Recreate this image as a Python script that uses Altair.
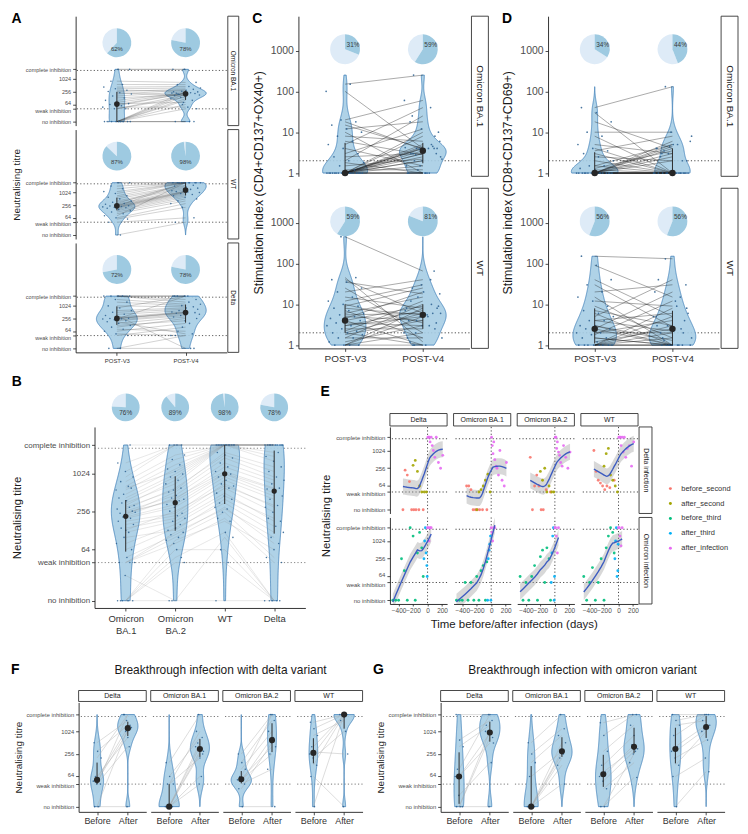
import json
import math
import altair as alt
import pandas as pd

FONT = "Liberation Sans"
VFILL = "#a6cde4"
VSTROKE = "#3f7fb8"
PTCOL = "#2a5f8f"
PIE_DARK = "#9ecae1"
PIE_LIGHT = "#deebf7"
STRIP_STROKE = "#333333"

# ---------------- values ----------------
NO_INH, WEAK, COMPLETE, COMPLETE_LINE = 10, 40, 2880, 2560
SI_THRESHOLD = 2

PERIODS = ["POST-V3", "POST-V4"]
A_VARIANTS = ["Omicron BA.1", "WT", "Delta"]
A_PIE = {"Omicron BA.1": [62, 78], "WT": [87, 98], "Delta": [72, 78]}
A_V3 = {
    "Omicron BA.1": [10, 10, 10, 10, 10, 10, 10, 10, 10, 10, 40, 40, 48, 56, 64, 70, 80, 100, 130, 160,
                     200, 230, 260, 300, 350, 420, 560, 800, 2880, 2880],
    "WT": [10, 40, 56, 64, 80, 100, 120, 140, 160, 180, 190, 200, 210, 220, 230, 240, 260, 280, 300, 350,
           400, 500, 600, 700, 900, 1100, 1500, 2000, 2880, 2880],
    "Delta": [10, 10, 40, 48, 64, 80, 100, 120, 150, 180, 200, 220, 240, 250, 256, 260, 300, 350, 400, 500,
              600, 800, 1000, 1500, 2000, 2880, 2880, 2880, 2880, 2880],
}
A_V4 = {
    "Omicron BA.1": [10, 10, 64, 120, 10, 200, 40, 160, 256, 100, 140, 180, 48, 215, 210, 80, 220, 230, 190, 250,
                     300, 170, 330, 270, 380, 450, 550, 700, 2880, 2880],
    "WT": [40, 64, 200, 300, 2880, 400, 500, 600, 700, 800, 900, 1000, 1050, 1100, 2880, 1150, 1200, 1400, 2880,
           1600, 1800, 2000, 2200, 2880, 2880, 2880, 2880, 2880, 2880, 2880],
    "Delta": [40, 10, 100, 40, 150, 64, 256, 200, 300, 48, 350, 400, 2880, 450, 480, 500, 520, 10, 600, 700,
              800, 2880, 900, 1024, 1200, 1500, 2880, 2000, 2880, 2880],
}

B_VARIANTS = ["Omicron BA.1", "Omicron BA.2", "WT", "Delta"]
B_PIE = [76, 89, 98, 78]
B_TITRES = {
    "Omicron BA.1": [10, 10, 10, 25, 10, 40, 10, 40, 48, 40, 64, 100, 80, 120, 140, 160, 130, 180, 200, 210,
                     250, 220, 240, 260, 230, 280, 300, 350, 320, 380, 420, 600, 480, 560, 640, 760, 900, 1100,
                     1500, 2880],
    "Omicron BA.2": [10, 40, 64, 10, 48, 80, 90, 100, 110, 120, 140, 130, 160, 180, 200, 220, 260, 240, 300, 330,
                     380, 420, 400, 460, 520, 600, 560, 700, 800, 900, 1000, 1100, 1200, 1400, 1700, 2000,
                     2880, 2880, 2880, 2880],
    "WT": [10, 40, 64, 100, 120, 200, 180, 250, 300, 280, 350, 400, 450, 500, 600, 700, 650, 800, 900, 1000,
           1024, 1100, 1300, 1500, 1800, 2000, 2200, 2880, 2880, 2880, 2880, 2880, 2880, 2880, 2880, 2880,
           2880, 2880, 2880, 2880],
    "Delta": [10, 10, 10, 10, 10, 40, 64, 48, 80, 100, 120, 150, 200, 180, 250, 300, 320, 400, 450, 500,
              580, 600, 700, 800, 900, 1100, 1300, 1600, 1900, 2200, 2880, 2880, 2880, 2880, 2880, 2880,
              2880, 2880, 2880, 2880],
}

C_VARIANTS = ["Omicron BA.1", "WT"]
C_PIE = {"Omicron BA.1": [31, 59], "WT": [59, 81]}
C_V3 = {
    "Omicron BA.1": [1, 1, 1, 1, 1, 1, 1, 1, 1, 1, 1, 1, 1, 1, 1, 1, 1, 1, 1.2, 1.5, 1.8, 2, 2.5, 3, 4, 5, 6,
                     8, 10, 12, 15, 18, 20, 100, 150],
    "WT": [1, 1, 1, 1, 1.2, 1.5, 1.5, 1.8, 2, 2, 2.2, 2.5, 3, 3, 3.5, 4, 4, 4.5, 5, 5.5, 6, 7, 8, 9, 10, 12,
           15, 20, 25, 35, 40, 45, 450],
}
C_V4 = {
    "Omicron BA.1": [3, 4, 2, 1, 5, 4, 2.5, 1, 3, 8, 1.5, 4.2, 1, 2, 10, 3.5, 1, 4.5, 1.2, 2.2, 1, 25, 3, 12,
                     1.5, 40, 2.8, 6, 1, 18, 4, 3.8, 60, 4, 250],
    "WT": [2, 5, 1, 8, 3, 1.5, 10, 4, 6, 1, 12, 2.5, 5, 7, 3, 1, 9, 20, 4, 6, 15, 1.5, 5.5, 25, 3.5, 30, 8,
           40, 2, 18, 6, 1.2, 65],
}
D_PIE = {"Omicron BA.1": [34, 44], "WT": [56, 56]}
D_V3 = {
    "Omicron BA.1": [1, 1, 1, 1, 1, 1, 1, 1, 1, 1, 1, 1, 1, 1, 1, 1, 1.2, 1.3, 1.5, 1.5, 2, 2.5, 3, 3.5, 4, 5,
                     8, 10, 18, 30, 40],
    "WT": [1, 1, 1, 1, 1, 1, 1, 1, 1.2, 1.5, 1.5, 1.8, 2, 2, 2.5, 2.5, 3, 3, 4, 4, 5, 6, 7, 9, 12, 15, 20, 30,
           40, 90, 150],
}
D_V4 = {
    "Omicron BA.1": [1, 3, 1, 5, 1, 2, 1, 4, 1, 1, 6, 1, 2.5, 1, 4.5, 1, 1, 3.5, 1, 5, 1, 2, 1, 8, 1, 3, 1, 10,
                     4, 1, 130],
    "WT": [2, 1, 5, 1, 1.5, 8, 1, 3, 2.5, 1, 1, 12, 2, 4, 1, 20, 1, 1.3, 6, 2.2, 40, 1, 3, 1.5, 9, 1, 30, 2.8,
           5, 15, 130],
}

E_COLS = ["Delta", "Omicron BA.1", "Omicron BA.2", "WT"]
E_ROWS = ["Delta infection", "Omicron infection"]
E_CATS = ["before_second", "after_second", "before_third", "after_third", "after_infection"]
E_COLORS = ["#F8766D", "#A3A500", "#00BF7D", "#00B0F6", "#E76BF3"]
E_R1_DAYS = [-340, -310, -280, -250, -220, -190, -160, -120, -60,
             -200, -170, -140, -110, -80, -45, -15,
             5, 15, 25, 35, 50, 65, 80, 100, 120, 150, 180, 210]
E_R1_CATS = ["before_second"] * 9 + ["after_second"] * 7 + ["after_infection"] * 12
E_R1_T = {
    "Delta": [10, 220, 150, 90, 10, 10, 10, 10, 10, 320, 470, 200, 64, 40, 40, 40,
              2880, 2880, 2880, 2000, 2880, 1500, 1024, 600, 2880, 400, 256, 700],
    "Omicron BA.1": [64, 64, 48, 10, 10, 10, 10, 10, 10, 10, 40, 48, 64, 100, 160, 40,
                     2880, 1500, 800, 2000, 500, 300, 256, 150, 1024, 100, 64, 400],
    "Omicron BA.2": [600, 10, 64, 150, 64, 10, 10, 48, 40, 200, 100, 256, 40, 64, 40, 40,
                     2880, 2880, 1200, 2000, 900, 700, 400, 300, 1500, 600, 256, 900],
    "WT": [1024, 200, 100, 80, 64, 48, 64, 56, 100, 300, 800, 1200, 150, 100, 64, 40,
           2880, 2880, 2880, 1500, 2880, 900, 2880, 600, 1200, 1500, 300, 2000],
}
E_R2_DAYS = [-480, -440, -400, -360, -320, -280, -240, -200, -170, -140, -110, -80, -60,
             -50, -40, -30, -20, -10, -5,
             0, 10, 20, 35, 50]
E_R2_CATS = ["before_third"] * 13 + ["after_third"] * 6 + ["after_infection"] * 5
E_R2_T = {
    "Delta": [10, 10, 10, 256, 100, 10, 2880, 1500, 10, 400, 2000, 600, 64,
              256, 1024, 2880, 400, 150, 64, 2880, 2880, 1024, 2880, 2880],
    "Omicron BA.1": [10, 10, 10, 40, 10, 40, 10, 64, 10, 100, 150, 10, 200,
                     10, 256, 500, 800, 1500, 10, 2880, 2000, 1024, 2880, 2880],
    "Omicron BA.2": [64, 10, 40, 10, 64, 150, 10, 300, 500, 40, 600, 256, 10,
                     40, 400, 1500, 2880, 10, 64, 2880, 2880, 1500, 400, 2880],
    "WT": [64, 10, 40, 128, 10, 40, 256, 10, 600, 1500, 2880, 2000, 400,
           256, 1024, 2880, 64, 100, 800, 2880, 2880, 1500, 700, 2880],
}

FG_COLS = ["Delta", "Omicron BA.1", "Omicron BA.2", "WT"]
STAGES = ["Before", "After"]
F_TITLE = "Breakthrough infection with delta variant"
G_TITLE = "Breakthrough infection with omicron variant"
F_BEFORE = {"Delta": [10, 10, 40, 40, 48, 56, 64, 200, 300, 512],
            "Omicron BA.1": [10, 10, 10, 10, 10, 10, 40, 40, 64, 150],
            "Omicron BA.2": [10, 30, 40, 48, 52, 56, 64, 100, 150, 256],
            "WT": [10, 64, 128, 200, 256, 290, 400, 800, 1200, 1800]}
F_AFTER = {"Delta": [1200, 10, 2880, 400, 1024, 1300, 700, 2880, 1500, 2000],
           "Omicron BA.1": [256, 40, 400, 64, 500, 300, 200, 1024, 700, 2880],
           "Omicron BA.2": [10, 512, 100, 700, 256, 400, 2880, 1024, 2000, 2880],
           "WT": [2880, 10, 2880, 1024, 2880, 256, 2880, 2000, 2880, 2880]}
G_BEFORE = {"Delta": [10, 10, 10, 20, 64, 64, 100, 400, 600, 2880],
            "Omicron BA.1": [10, 10, 10, 10, 10, 10, 64, 150, 256, 512],
            "Omicron BA.2": [10, 10, 30, 48, 64, 84, 128, 300, 800, 1750],
            "WT": [10, 64, 128, 200, 300, 400, 800, 1500, 2000, 2880]}
G_AFTER = {"Delta": [700, 10, 1024, 150, 900, 500, 2880, 1500, 2000, 2880],
           "Omicron BA.1": [40, 300, 128, 256, 200, 512, 300, 800, 1200, 2880],
           "Omicron BA.2": [60, 256, 150, 300, 450, 350, 800, 1500, 2880, 2880],
           "WT": [86, 200, 1024, 600, 1200, 1500, 2880, 2000, 2880, 2880]}

# ---------------- helpers ----------------
L2 = "log(datum.t) / LN2"
L10 = "log(datum.t) / LN10"
TITRE_TICKS = [math.log2(v) for v in [NO_INH, WEAK, 64, 256, 1024, COMPLETE]]
TITRE_LABELS = ("datum.value < 4 ? 'no inhibition' : datum.value < 5.5 ? 'weak inhibition' : "
                "datum.value > 11 ? 'complete inhibition' : format(pow(2, datum.value), 'd')")
SI_TICKS = [0, 1, 2, 3]
SI_LABELS = "format(pow(10, datum.value), 'd')"
DUMMY = pd.DataFrame({"d": [0]})
ECOL = alt.Scale(domain=E_CATS, range=E_COLORS)


def paired(*series):
    rows = []
    for p, vals in enumerate(series, start=1):
        for i, v in enumerate(vals):
            rows.append({"subj": i, "pos": p, "t": v})
    return pd.DataFrame(rows)


def pie_df(pcts):
    return pd.DataFrame({"pos": list(range(1, len(pcts) + 1)), "pct": pcts})


def cat_axis(labels, fs, split=False, pad=2):
    expr = f"{json.dumps(labels)}[datum.value - 1]"
    if split:
        expr = f"split({expr}, ' ')"
    return alt.Axis(values=list(range(1, len(labels) + 1)), labelExpr=expr, labelFontSize=fs,
                    title=None, labelPadding=pad, labelColor="#333333")


def titre_axis(fs, title=None, title_fs=10, title_y=None, nudge=1.6, title_pad=4):
    kw = dict(values=TITRE_TICKS, labelExpr=TITRE_LABELS, labelFontSize=fs, title=title,
              titleFontSize=title_fs, titlePadding=title_pad,
              labelOffset={"condition": [{"test": "datum.value > 5.9 && datum.value < 6.1", "value": -nudge},
                                         {"test": "datum.value > 5.2 && datum.value < 5.5", "value": nudge}],
                           "value": 0})
    if title_y is not None:
        kw["titleY"] = title_y
    return alt.Axis(**kw)


def si_axis(title=None, title_y=None):
    kw = dict(values=SI_TICKS, labelExpr=SI_LABELS, labelFontSize=10.5, title=title,
              titleFontSize=12.5, titlePadding=5)
    if title_y is not None:
        kw["titleY"] = title_y
    return alt.Axis(**kw)


def top_strip(w, label, h=12, gap=1, fs=7):
    r = alt.Chart(DUMMY).mark_rect(fill="white", stroke=STRIP_STROKE, strokeWidth=0.9).encode(
        x=alt.value(0), x2=alt.value(w), y=alt.value(-gap - h), y2=alt.value(-gap))
    t = alt.Chart(DUMMY).mark_text(fontSize=fs, color="#1a1a1a").encode(
        x=alt.value(w / 2), y=alt.value(-gap - h / 2), text=alt.value(label))
    return [r, t]


def right_strip(w, h, label, sw=12, gap=1, fs=7):
    r = alt.Chart(DUMMY).mark_rect(fill="white", stroke=STRIP_STROKE, strokeWidth=0.9).encode(
        x=alt.value(w + gap), x2=alt.value(w + gap + sw), y=alt.value(0), y2=alt.value(h))
    t = alt.Chart(DUMMY).mark_text(fontSize=fs, color="#1a1a1a", angle=90).encode(
        x=alt.value(w + gap + sw / 2), y=alt.value(h / 2), text=alt.value(label))
    return [r, t]


def spacer():
    return alt.Chart(DUMMY).mark_point(opacity=0, size=1).encode(
        x=alt.value(0), y=alt.value(0)).properties(width=1, height=1)


def violin_unit(df, *, w, h, xdom, ydom, lexpr, thresholds, xaxis, yaxis,
                pies=None, pie_l=0.0, pie_r=14, pie_dx=0, pie_dy=6, pie_fs=6,
                hw=0.3, jit=0.2, line_color="#333333", line_op=0.5, line_w=0.4,
                dot=30, pt=3, rule_color="#333333", extra=()):
    xs = alt.Scale(domain=xdom, nice=False, zero=False)
    ys = alt.Scale(domain=ydom, nice=False, zero=False)

    def X(f, **kw):
        return alt.X(f + ":Q", scale=xs, axis=xaxis, **kw)

    def Y(f):
        return alt.Y(f + ":Q", scale=ys, axis=yaxis)

    base = alt.Chart(df).transform_calculate(l=lexpr)
    layers = [
        alt.Chart(pd.DataFrame({"t": thresholds})).transform_calculate(l=lexpr)
        .mark_rule(color=rule_color, strokeDash=[1.2, 2.2], strokeWidth=0.8).encode(y=Y("l")),
        base.transform_density("l", as_=["l", "dens"], groupby=["pos"])
        .transform_joinaggregate(dmax="max(dens)")
        .transform_calculate(x1=f"datum.pos - {hw} * datum.dens / datum.dmax",
                             x2=f"datum.pos + {hw} * datum.dens / datum.dmax")
        .mark_area(orient="horizontal", fill=VFILL, fillOpacity=0.9, stroke=VSTROKE, strokeWidth=0.8)
        .encode(y=Y("l"), x=X("x1"), x2=alt.X2("x2"), detail="pos:N"),
        base.mark_line(color=line_color, opacity=line_op, strokeWidth=line_w)
        .encode(x=X("pos"), y=Y("l"), detail="subj:N"),
        base.transform_window(rn="row_number()")
        .transform_calculate(jx=f"datum.pos + ((datum.rn * 0.618034) % 1 - 0.5) * {2 * jit}")
        .mark_circle(size=pt, color=PTCOL, opacity=0.85).encode(x=X("jx"), y=Y("l")),
    ]
    summ = base.transform_aggregate(q1="q1(l)", q3="q3(l)", med="median(l)", groupby=["pos"])
    layers.append(summ.mark_rule(color="#2b2b2b", strokeWidth=1).encode(x=X("pos"), y=Y("q1"), y2=alt.Y2("q3")))
    layers.append(summ.mark_circle(size=dot, color="#262626", opacity=1).encode(x=X("pos"), y=Y("med")))
    if pies is not None:
        pb = alt.Chart(pies).transform_calculate(a0="0", a1="datum.pct * 2 * PI / 100", a2="2 * PI",
                                                 lbl="datum.pct + '%'")
        py = alt.YDatum(pie_l, type="quantitative", scale=ys, axis=yaxis)
        layers.append(pb.mark_arc(radius=pie_r, color=PIE_LIGHT).encode(
            x=X("pos", stack=False), y=py,
            theta=alt.Theta("a1:Q", scale=None, stack=False), theta2=alt.Theta2("a2")))
        layers.append(pb.mark_arc(radius=pie_r, color=PIE_DARK).encode(
            x=X("pos", stack=False), y=py,
            theta=alt.Theta("a0:Q", scale=None, stack=False), theta2=alt.Theta2("a1")))
        layers.append(pb.mark_text(fontSize=pie_fs, dx=pie_dx, dy=pie_dy, color="#3a3a3a").encode(
            x=X("pos"), y=py, text="lbl:N"))
    layers.extend(extra)
    return alt.layer(*layers).properties(width=w, height=h)


def letter(s, offset=4):
    return alt.TitleParams(s, anchor="start", fontSize=14, fontWeight="bold", offset=offset)


# ---------------- panel A ----------------
AW, AH = 152, 110
a_units = []
for i, v in enumerate(A_VARIANTS):
    last = i == len(A_VARIANTS) - 1
    a_units.append(violin_unit(
        paired(A_V3[v], A_V4[v]), w=AW, h=AH, xdom=[0.4, 2.6], ydom=[2.7, 19.8], lexpr=L2,
        thresholds=[WEAK, COMPLETE_LINE], xaxis=cat_axis(PERIODS, 6) if last else None,
        yaxis=titre_axis(5.5, title="Neutralising titre" if i == 1 else None, title_fs=10),
        pies=pie_df(A_PIE[v]), pie_l=15.65, pie_r=14.5, pie_dy=6, pie_fs=6,
        hw=0.3, jit=0.22, line_color="#333333", line_op=0.55, line_w=0.4, dot=32, pt=2.5,
        extra=right_strip(AW, AH, v, sw=11, gap=1, fs=6.5)))
panel_a = alt.vconcat(*a_units, spacing=4, bounds="flush").properties(title=letter("A", offset=-10))


# ---------------- panels C and D ----------------
CW, CH = 172, 161


def si_panel(name, label, v3, v4, pies):
    units = []
    for i, v in enumerate(C_VARIANTS):
        last = i == len(C_VARIANTS) - 1
        units.append(violin_unit(
            paired(v3[v], v4[v]), w=CW, h=CH, xdom=[0.4, 2.6], ydom=[-0.08, 3.84], lexpr=L10,
            thresholds=[SI_THRESHOLD], xaxis=cat_axis(PERIODS, 10) if last else None,
            yaxis=si_axis(title=label if i == 0 else None, title_y=CH + 6),
            pies=pie_df(pies[v]), pie_l=3.03, pie_r=15, pie_dx=8, pie_dy=-4, pie_fs=6.5,
            hw=0.3, jit=0.25, line_color="#1a1a1a", line_op=0.75, line_w=0.5, dot=42, pt=3,
            rule_color="#1a1a1a", extra=right_strip(CW, CH, v, sw=17, gap=2, fs=10)))
    return alt.vconcat(*units, spacing=12, bounds="flush").properties(title=letter(name, offset=-10))


panel_c = si_panel("C", "Stimulation index (CD4+CD137+OX40+)", C_V3, C_V4, C_PIE)
panel_d = si_panel("D", "Stimulation index (CD8+CD137+CD69+)", D_V3, D_V4, D_PIE)


# ---------------- panel B ----------------
BW, BH = 212, 182
panel_b = violin_unit(
    paired(*[B_TITRES[v] for v in B_VARIANTS]), w=BW, h=BH, xdom=[0.37, 4.63], ydom=[2.94, 12.44],
    lexpr=L2, thresholds=[WEAK, COMPLETE_LINE], xaxis=cat_axis(B_VARIANTS, 9.5, split=True, pad=3),
    yaxis=titre_axis(8, title="Neutralising titre", title_fs=11.5, nudge=0, title_pad=1),
    pies=pie_df(B_PIE), pie_l=13.47, pie_r=14, pie_dy=6, pie_fs=6.5,
    hw=0.3, jit=0.2, line_color="#8c8c8c", line_op=0.5, line_w=0.4, dot=28, pt=2.5,
    rule_color="#666666").properties(title=letter("B"))


# ---------------- panel E ----------------
EW, EH = 57.5, 87
E_XDOM = [-520, 270]
E_YDOM = [2.9, 12.65]


def e_unit(df, *, xaxis, yaxis, extra=()):
    xs = alt.Scale(domain=E_XDOM, nice=False, zero=False)
    ys = alt.Scale(domain=E_YDOM, nice=False, zero=False)

    def X(f):
        return alt.X(f + ":Q", scale=xs, axis=xaxis)

    def Y(f):
        return alt.Y(f + ":Q", scale=ys, axis=yaxis)

    base = alt.Chart(df).transform_calculate(l=L2)
    sm = base.transform_loess("day", "l", bandwidth=0.75)
    layers = [
        alt.Chart(pd.DataFrame({"t": [WEAK, COMPLETE_LINE]})).transform_calculate(l=L2)
        .mark_rule(color="#1a1a1a", strokeDash=[1.2, 2.2], strokeWidth=0.8).encode(y=Y("l")),
        alt.Chart(pd.DataFrame({"day": [0]}))
        .mark_rule(color="#1a1a1a", strokeDash=[1.2, 2.2], strokeWidth=0.8).encode(x=X("day")),
        sm.transform_calculate(lo="datum.l - 0.9", hi="datum.l + 0.9")
        .mark_area(color="#9e9e9e", opacity=0.4, clip=True).encode(x=X("day"), y=Y("lo"), y2=alt.Y2("hi")),
        base.mark_circle(size=8, opacity=0.9).encode(
            x=X("day"), y=Y("l"), color=alt.Color("cat:N", scale=ECOL, legend=None)),
        sm.mark_line(color="#3d5cc0", strokeWidth=1.4, clip=True).encode(x=X("day"), y=Y("l")),
    ]
    layers.extend(extra)
    return alt.layer(*layers).properties(width=EW, height=EH)


e_units = []
for r, (rname, days, cats, tdict) in enumerate([(E_ROWS[0], E_R1_DAYS, E_R1_CATS, E_R1_T),
                                                 (E_ROWS[1], E_R2_DAYS, E_R2_CATS, E_R2_T)]):
    for c, col in enumerate(E_COLS):
        extra = []
        if r == 0:
            extra += top_strip(EW, col, h=12.5, gap=1, fs=7)
        if c == len(E_COLS) - 1:
            extra += right_strip(EW, EH, rname, sw=13, gap=1, fs=7)
        xax = None
        if r == 1:
            kw = dict(values=[-400, -200, 0, 200], labelFontSize=6.5, title=None, tickSize=2)
            if c == 1:
                kw.update(title="Time before/after infection (days)", titleFontSize=11.5, titleX=EW + 3)
            xax = alt.Axis(**kw)
        yax = titre_axis(6, title="Neutralising titre" if r == 0 else None, title_fs=11.5,
                         title_y=EH + 2) if c == 0 else None
        df = pd.DataFrame({"day": days, "cat": cats, "t": tdict[col]})
        e_units.append(e_unit(df, xaxis=xax, yaxis=yax, extra=extra))
e_grid = alt.concat(*e_units, columns=4, spacing={"row": 4, "column": 6}, bounds="flush")

leg_df = pd.DataFrame({"cat": E_CATS})
leg_y = alt.Y("cat:N", sort=E_CATS, axis=None,
              scale=alt.Scale(type="point", domain=E_CATS, range=[62, 122], padding=0))
legend = alt.layer(
    alt.Chart(leg_df).mark_circle(size=9, opacity=1).encode(
        x=alt.value(3), y=leg_y, color=alt.Color("cat:N", scale=ECOL, legend=None)),
    alt.Chart(leg_df).mark_text(align="left", fontSize=7.5, color="#333333").encode(
        x=alt.value(14), y=leg_y, text="cat:N"),
).properties(width=60, height=2 * EH + 4)
panel_e = alt.hconcat(e_grid, legend, spacing=15).properties(title=letter("E", offset=14))


# ---------------- panels F and G ----------------
FW, FH = 68, 110
FG_YDOM = [2.86, 12.57]


def fg_panel(name, title, before, after):
    units = []
    for c, col in enumerate(FG_COLS):
        extra = top_strip(FW, col, h=11, gap=1, fs=7)
        if c == 0:
            extra += [
                alt.Chart(DUMMY).mark_text(fontSize=14, fontWeight="bold", align="left", color="#000000")
                .encode(x=alt.value(-68), y=alt.value(-33), text=alt.value(name)),
                alt.Chart(DUMMY).mark_text(fontSize=12, color="#1a1a1a")
                .encode(x=alt.value((4 * FW + 3 * 4.5) / 2), y=alt.value(-33), text=alt.value(title)),
            ]
        yax = titre_axis(5.8, title="Neutralising titre", title_fs=10, title_pad=2) if c == 0 else None
        units.append(violin_unit(
            paired(before[col], after[col]), w=FW, h=FH, xdom=[0.4, 2.6], ydom=FG_YDOM, lexpr=L2,
            thresholds=[WEAK, COMPLETE_LINE], xaxis=cat_axis(STAGES, 9), yaxis=yax,
            hw=0.33, jit=0.15, line_color="#a8a8a8", line_op=0.8, line_w=0.5, dot=38, pt=2.5,
            rule_color="#555555", extra=extra))
    return alt.hconcat(*units, spacing=4.5, bounds="flush")


panel_f = fg_panel("F", F_TITLE, F_BEFORE, F_AFTER)
panel_g = fg_panel("G", G_TITLE, G_BEFORE, G_AFTER)

# ---------------- assemble ----------------
# a 1px spacer leads each row so that every row starts at the left edge
row1 = alt.hconcat(spacer(), alt.hconcat(panel_a, panel_c, panel_d, spacing=12), spacing=0)
row2 = alt.hconcat(spacer(), alt.hconcat(panel_b, panel_e, spacing=14), spacing=0)
row3 = alt.hconcat(spacer(), alt.hconcat(panel_f, panel_g, spacing=10), spacing=0)

chart = (
    alt.vconcat(row1, alt.vconcat(row2, row3, spacing=28), spacing=12)
    .properties(padding=1)
    .configure(font=FONT)
    .configure_view(stroke=None)
    .configure_axis(grid=False, domainColor="#1f1f1f", tickColor="#1f1f1f", labelColor="#4d4d4d",
                    titleColor="#1a1a1a", titleFontWeight="normal", labelFont=FONT, titleFont=FONT,
                    domainWidth=0.9, tickWidth=0.8, tickSize=3, labelPadding=2, labelOverlap=False,
                    labelFlush=False)
    .configure_title(font=FONT, color="#000000")
    .configure_text(font=FONT)
)
chart.save("out.html", embed_options={"renderer": "svg", "actions": False})
